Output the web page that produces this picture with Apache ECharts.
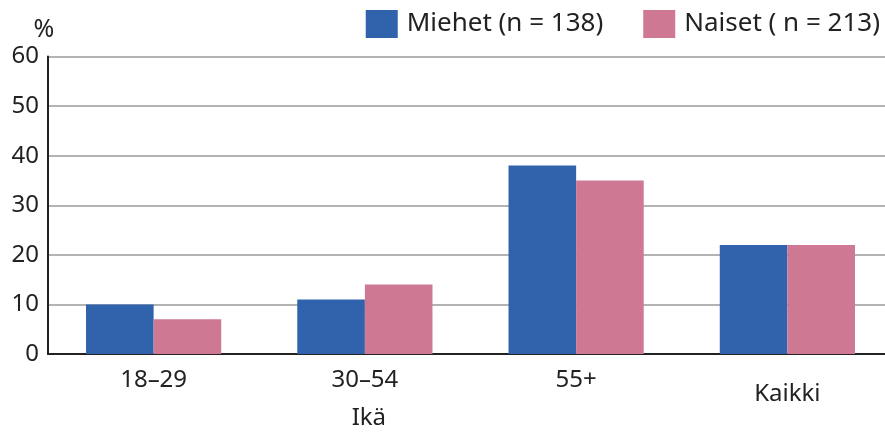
<!DOCTYPE html>
<html>
<head>
<meta charset="utf-8">
<script src="https://cdn.jsdelivr.net/npm/echarts@6/dist/echarts.min.js"></script>
<style>
  html, body { margin: 0; padding: 0; background: #fff; }
  #chart { width: 885px; height: 434px; }
</style>
</head>
<body>
<div id="chart"></div>
<script>
// Age groups and shares (%) by sex
const categories = ['18–29', '30–54', '55+', 'Kaikki'];
const miehet = [10, 11, 38, 22];
const naiset = [7, 14, 35, 22];
const yTicks = [0, 10, 20, 30, 40, 50, 60];
const seriesNames = ['Miehet (n = 138)', 'Naiset ( n = 213)'];

const FONT = '"Noto Sans", sans-serif';
const TEXT = '#222';
const SIZE = 24;

const chart = echarts.init(document.getElementById('chart'), null, { renderer: 'canvas' });

chart.setOption({
  animation: false,
  textStyle: { fontFamily: FONT, color: TEXT },
  grid: { left: 48, top: 56.5, width: 845, bottom: 80, containLabel: false, outerBoundsMode: 'none' },
  legend: {
    top: 5,
    right: 0,
    icon: 'rect',
    itemWidth: 32,
    itemHeight: 28,
    itemGap: 40,
    textStyle: { fontSize: 26, fontFamily: FONT, color: TEXT, padding: [0, 0, 0, 4] },
    data: seriesNames
  },
  xAxis: {
    type: 'category',
    data: categories,
    axisLine: { lineStyle: { color: '#222', width: 2 } },
    axisTick: { show: false },
    axisLabel: {
      fontSize: SIZE,
      fontFamily: FONT,
      color: TEXT,
      margin: 14,
      formatter: function (v) {
        if (v === 'Kaikki') return '{low|' + v + '}';
        if (v === '30–54') return v + '\n{ika|Ikä}';
        return v;
      },
      rich: {
        low: { fontSize: SIZE, fontFamily: FONT, color: TEXT, padding: [14, 0, 0, 0] },
        ika: { fontSize: SIZE, fontFamily: FONT, color: TEXT, padding: [14, 0, 0, 8] }
      }
    }
  },
  yAxis: {
    type: 'value',
    min: yTicks[0],
    max: yTicks[yTicks.length - 1],
    interval: 10,
    name: '%',
    nameLocation: 'end',
    nameGap: 14,
    nameTextStyle: { fontSize: 25, fontFamily: FONT, color: TEXT, align: 'center', padding: [0, 8, 0, 0] },
    axisLine: { show: true, lineStyle: { color: '#222', width: 2 } },
    axisTick: { show: false },
    axisLabel: { fontSize: SIZE, fontFamily: FONT, color: TEXT, margin: 9 },
    splitLine: { lineStyle: { color: '#9a9a9a', width: 1.5 } }
  },
  series: [
    {
      name: seriesNames[0],
      type: 'bar',
      data: miehet,
      barWidth: '32%',
      barGap: '0%',
      itemStyle: { color: '#3063ab' }
    },
    {
      name: seriesNames[1],
      type: 'bar',
      data: naiset,
      barWidth: '32%',
      barGap: '0%',
      itemStyle: { color: '#cf7894' }
    }
  ]
});
</script>
</body>
</html>
